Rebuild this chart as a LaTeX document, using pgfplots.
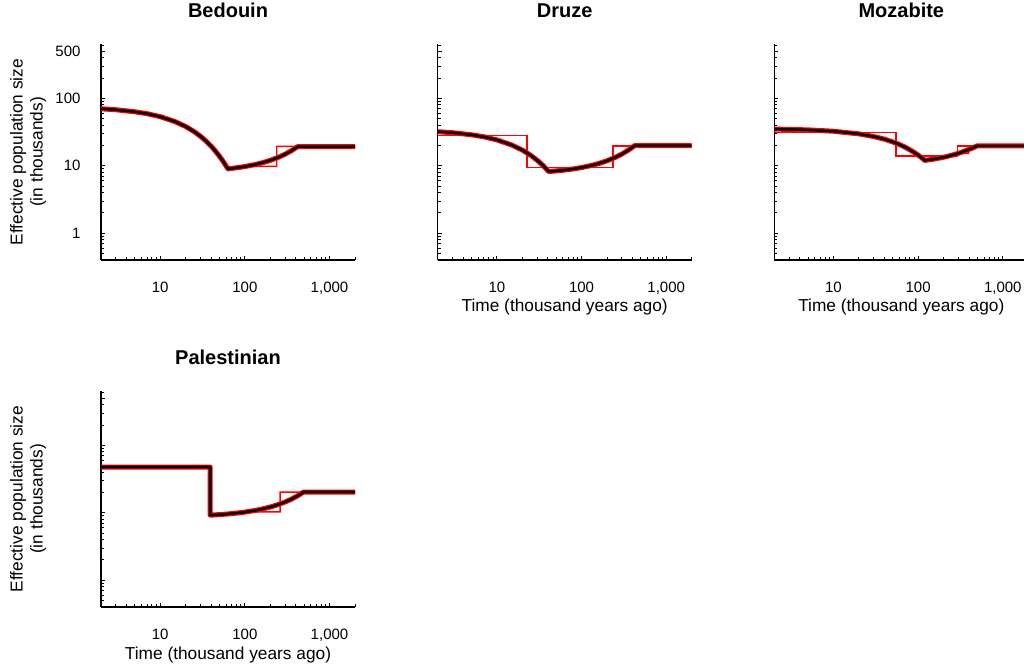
\documentclass[border=0pt]{standalone}
\usepackage{fontspec}
\setmainfont{Liberation Sans}
\usepackage{pgfplots}
\pgfplotsset{compat=1.18}

% line styles of the fitted history and of the replicate runs
\tikzset{
  nehalo/.style={red, line width=5bp, line join=round},
  nerep/.style={red, line width=1.4bp, line join=miter},
  nefit/.style={black, line width=2.6bp, line join=round},
}

% shared look of the four demographic-history panels
\pgfplotsset{
  scale only axis, width=254bp, height=216bp,
  xmin=2, xmax=2000, ymin=0.4, ymax=640,
  axis x line*=bottom, axis y line*=left,
  axis line style={-, line width=1.5bp, black},
  tick align=inside,
  major tick length=4bp, minor tick length=3bp,
  tick style={black, line width=1bp},
  xtick={10,100,1000},
  xticklabels={10,100,{1,000}},
  minor xtick={3,4,5,6,7,8,9,20,30,40,50,60,70,80,90,200,300,400,500,600,700,800,900,2000},
  ytick={1,10,100,500},
  minor ytick={0.5,0.6,0.7,0.8,0.9,2,3,4,5,6,7,8,9,20,30,40,50,60,70,80,90,200,300,400,600},
  tick label style={font=\fontsize{15bp}{18bp}\selectfont},
  xticklabel style={yshift=-19bp},
  yticklabel style={xshift=-17bp},
  title style={at={(0.5,1)}, anchor=base, yshift=21bp,
    font=\fontsize{20bp}{24bp}\selectfont\bfseries},
  label style={font=\fontsize{17.3bp}{20bp}\selectfont},
  xlabel style={at={(axis description cs:0.5,0)}, anchor=base, yshift=-52bp},
  ylabel style={at={(axis description cs:-0.287,0.5)}, anchor=center, align=center},
}

\begin{document}
\begin{tikzpicture}
\path[use as bounding box] (0,0) rectangle (1024bp,667bp);

% ---------------- Bedouin ----------------
\begin{loglogaxis}[at={(101bp,407bp)}, title={Bedouin},
  yticklabels={1,10,100,500},
  ylabel={Effective population size\\(in thousands)}]
\addplot[nehalo] coordinates {(2,70)(3,67.7)(5,63.25)(7,59.2)(10,53.5)(15,45.2)(20,38.2)(25,32.3)(30,27.3)(35,23.07)(40,19.5)(45,16.48)(50,13.93)(55,11.77)(60,9.95)(63,9.0)(80,9.33)(100,9.73)(130,10.37)(160,11.05)(200,12.03)(250,13.38)(300,14.88)(350,16.54)(420,19.2)(2000,19.2)};
\addplot[nerep] coordinates {(63,9.3)(80,9.8)(238,9.8)(238,19.4)(420,19.4)(2000,19.4)};
\addplot[nefit] coordinates {(2,70)(3,67.7)(5,63.25)(7,59.2)(10,53.5)(15,45.2)(20,38.2)(25,32.3)(30,27.3)(35,23.07)(40,19.5)(45,16.48)(50,13.93)(55,11.77)(60,9.95)(63,9.0)(80,9.33)(100,9.73)(130,10.37)(160,11.05)(200,12.03)(250,13.38)(300,14.88)(350,16.54)(420,19.2)(2000,19.2)};
\end{loglogaxis}

% ---------------- Druze ----------------
\begin{loglogaxis}[at={(437.7bp,407bp)}, title={Druze},
  yticklabels={}, xlabel={Time (thousand years ago)}]
\addplot[nehalo] coordinates {(2,32)(3,30.9)(5,28.8)(7,26.9)(10,24.2)(15,20.3)(20,17.07)(25,14.34)(30,12.04)(35,10.11)(41,8.2)(60,8.57)(80,8.98)(100,9.40)(130,10.08)(160,10.80)(200,11.85)(250,13.31)(300,14.94)(360,17.16)(424,19.9)(2000,19.9)};
\addplot[nerep] coordinates {(2,27.9)(22.6,27.9)(22.6,9.5)(236,9.5)(236,19.7)(424,19.7)(2000,19.7)};
\addplot[nefit] coordinates {(2,32)(3,30.9)(5,28.8)(7,26.9)(10,24.2)(15,20.3)(20,17.07)(25,14.34)(30,12.04)(35,10.11)(41,8.2)(60,8.57)(80,8.98)(100,9.40)(130,10.08)(160,10.80)(200,11.85)(250,13.31)(300,14.94)(360,17.16)(424,19.9)(2000,19.9)};
\end{loglogaxis}

% ---------------- Mozabite ----------------
\begin{loglogaxis}[at={(774.3bp,407bp)}, title={Mozabite},
  yticklabels={}, xlabel={Time (thousand years ago)}]
\addplot[nehalo] coordinates {(2,35)(5,34.06)(10,32.5)(20,29.7)(30,27.1)(40,24.8)(50,22.6)(60,20.7)(70,18.9)(80,17.2)(90,15.75)(100,14.38)(110,13.13)(120,12.0)(150,12.5)(200,13.37)(250,14.31)(300,15.32)(350,16.4)(400,17.55)(450,18.6)(496,19.7)(2000,19.7)};
\addplot[nerep] coordinates {(2,31)(55,31)(55,14.0)(291,14.0)(291,19.6)(496,19.6)(2000,19.6)};
\addplot[nerep] coordinates {(120,12.2)(160,12.6)(220,13.5)(291,15.3)(394,15.3)(394,19.2)(496,19.6)};
\addplot[nefit] coordinates {(2,35)(5,34.06)(10,32.5)(20,29.7)(30,27.1)(40,24.8)(50,22.6)(60,20.7)(70,18.9)(80,17.2)(90,15.75)(100,14.38)(110,13.13)(120,12.0)(150,12.5)(200,13.37)(250,14.31)(300,15.32)(350,16.4)(400,17.55)(450,18.6)(496,19.7)(2000,19.7)};
\end{loglogaxis}

% ---------------- Palestinian ----------------
\begin{loglogaxis}[at={(101bp,60bp)}, title={Palestinian},
  yticklabels={}, xlabel={Time (thousand years ago)},
  ylabel={Effective population size\\(in thousands)}]
\addplot[nehalo] coordinates {(2,47.7)(39,47.7)(39,9.2)(60,9.54)(80,9.88)(100,10.23)(130,10.78)(160,11.36)(200,12.17)(250,13.28)(300,14.48)(350,15.79)(400,17.23)(450,18.79)(494,20.3)(2000,20.3)};
\addplot[nerep] coordinates {(2,47.7)(39,47.7)(39,9.6)(100,10.3)(261,10.3)(261,20.2)(494,20.2)(2000,20.2)};
\addplot[nefit] coordinates {(2,47.7)(39,47.7)(39,9.2)(60,9.54)(80,9.88)(100,10.23)(130,10.78)(160,11.36)(200,12.17)(250,13.28)(300,14.48)(350,15.79)(400,17.23)(450,18.79)(494,20.3)(2000,20.3)};
\end{loglogaxis}
\end{tikzpicture}
\end{document}
